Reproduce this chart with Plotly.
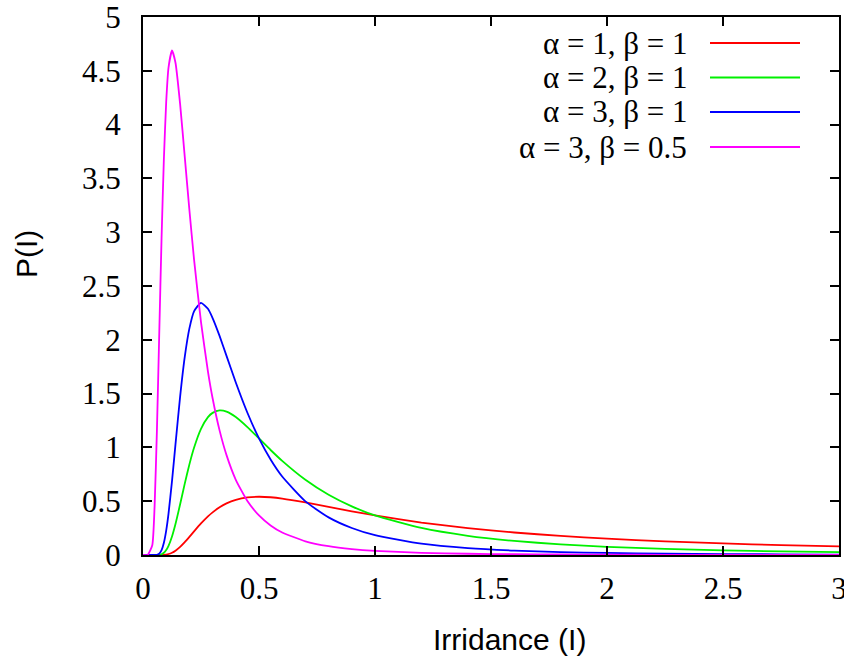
import plotly.graph_objects as go

# Irradiance samples (x) shared by all curves
irradiance = [0, 0.02, 0.04, 0.05, 0.06, 0.07, 0.08, 0.09, 0.10, 0.11, 0.125, 0.14,
              0.16, 0.18, 0.20, 0.22, 0.25, 0.28, 0.30, 0.33, 0.36, 0.40, 0.45, 0.50,
              0.55, 0.60, 0.70, 0.80, 0.90, 1.0, 1.2, 1.4, 1.6, 1.8, 2.0, 2.25, 2.5,
              2.75, 3.0]

# P(I) values
p_a1_b1 = [0, 0, 0, 0, 0, 0.0001, 0.0006, 0.0019, 0.0045, 0.0093, 0.0215, 0.0403,
           0.0754, 0.1193, 0.1685, 0.2192, 0.293, 0.3587, 0.3963, 0.4435, 0.4798, 0.513,
           0.5353, 0.5413, 0.5366, 0.5248, 0.4892, 0.4477, 0.4064, 0.3679, 0.3018,
           0.2497, 0.2091, 0.1771, 0.1516, 0.1266, 0.1072, 0.0919, 0.0796]
p_a2_b1 = [0, 0, 0, 0, 0.0003, 0.0018, 0.0073, 0.0205, 0.0454, 0.0847, 0.1718, 0.288,
           0.471, 0.663, 0.842, 0.996, 1.172, 1.281, 1.321, 1.344, 1.333, 1.2825, 1.189,
           1.083, 0.976, 0.8746, 0.699, 0.5596, 0.4517, 0.3679, 0.2515, 0.1784, 0.1307,
           0.0984, 0.0758, 0.0563, 0.0429, 0.0334, 0.0265]
p_a3_b1 = [0, 0, 0, 0.0002, 0.0022, 0.013, 0.0455, 0.114, 0.227, 0.385, 0.687, 1.028,
           1.472, 1.841, 2.106, 2.265, 2.344, 2.288, 2.202, 2.036, 1.851, 1.603, 1.322,
           1.083, 0.887, 0.729, 0.499, 0.3497, 0.2509, 0.1839, 0.1048, 0.0637, 0.0408,
           0.0273, 0.019, 0.0125, 0.0086, 0.0061, 0.0044]
p_a3_b05 = [0, 0, 0.091, 0.454, 1.158, 2.056, 2.945, 3.68, 4.211, 4.53, 4.689, 4.575,
            4.19, 3.70, 3.206, 2.748, 2.165, 1.705, 1.457, 1.158, 0.928, 0.699, 0.502,
            0.368, 0.275, 0.2096, 0.1274, 0.0817, 0.0547, 0.0379, 0.0199, 0.0114, 0.007,
            0.0045, 0.003, 0.002, 0.0013, 0.0009, 0.0007]

series_names = ["\u03b1 = 1, \u03b2 = 1", "\u03b1 = 2, \u03b2 = 1",
                "\u03b1 = 3, \u03b2 = 1", "\u03b1 = 3, \u03b2 = 0.5"]
series_values = [p_a1_b1, p_a2_b1, p_a3_b1, p_a3_b05]
series_colors = ["#ff0000", "#00f000", "#0000ff", "#ff00ff"]

x_ticks = [0, 0.5, 1, 1.5, 2, 2.5, 3]
x_tick_labels = ["0", "0.5", "1", "1.5", "2", "2.5", "3"]
y_ticks = [0, 0.5, 1, 1.5, 2, 2.5, 3, 3.5, 4, 4.5, 5]
y_tick_labels = ["0", "0.5", "1", "1.5", "2", "2.5", "3", "3.5", "4", "4.5", "5"]

W, H = 844, 658
L, R, T, B = 143, 5, 17, 103
pw, ph = W - L - R, H - T - B

def px_x(p):
    return (p - L) / pw

def px_y(p):
    return (H - B - p) / ph

fig = go.Figure()
for name, vals, col in zip(series_names, series_values, series_colors):
    fig.add_trace(go.Scatter(x=irradiance, y=vals, mode="lines", name=name,
                             line=dict(color=col, width=1.8, shape="spline", smoothing=0.5),
                             showlegend=False))

serif = "Liberation Serif, Times New Roman, serif"
sans = "Liberation Sans, Arial, sans-serif"

axis_common = dict(showgrid=False, zeroline=False, showline=True, linecolor="black",
                   linewidth=2, mirror="ticks", ticks="inside", ticklen=9, tickwidth=2,
                   tickcolor="black", ticklabeloverflow="allow", automargin=False,
                   tickfont=dict(family=serif, size=31, color="black"))
fig.update_xaxes(range=[0, 3], tickvals=x_ticks, ticktext=x_tick_labels,
                 ticklabelstandoff=5, **axis_common)
fig.update_yaxes(range=[0, 5], tickvals=y_ticks, ticktext=y_tick_labels,
                 ticklabelstandoff=14, **axis_common)

annotations = [
    dict(text="Irridance (I)", x=px_x(509), y=px_y(639), xref="paper", yref="paper",
         showarrow=False, font=dict(family=sans, size=30, color="black"),
         xanchor="center", yanchor="middle"),
    dict(text="P(I)", x=px_x(26), y=px_y(254), xref="paper", yref="paper",
         showarrow=False, textangle=-90, font=dict(family=sans, size=30, color="black"),
         xanchor="center", yanchor="middle"),
]
shapes = []
row_y = [43, 77.5, 112, 147]
for name, col, ry in zip(series_names, series_colors, row_y):
    annotations.append(dict(text=name, x=px_x(689), y=px_y(ry), xref="paper", yref="paper",
                            showarrow=False, xanchor="right", yanchor="middle",
                            font=dict(family=serif, size=31, color="black")))
    shapes.append(dict(type="line", xref="paper", yref="paper", x0=px_x(710), x1=px_x(800),
                       y0=px_y(ry), y1=px_y(ry), line=dict(color=col, width=1.8)))

fig.update_layout(width=W, height=H, margin=dict(l=L, r=R, t=T, b=B),
                  plot_bgcolor="white", paper_bgcolor="white",
                  annotations=annotations, shapes=shapes, showlegend=False)

fig.write_html("out.html")
